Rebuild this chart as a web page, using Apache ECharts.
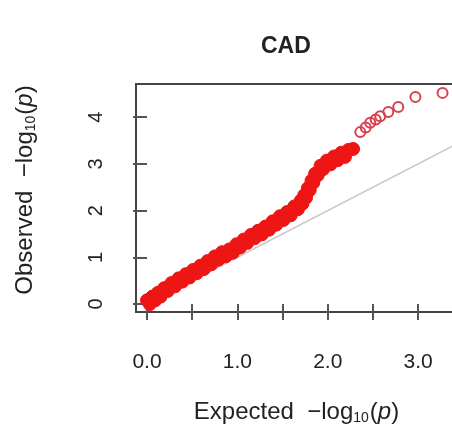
<!DOCTYPE html>
<html>
<head>
<meta charset="utf-8">
<script src="https://cdn.jsdelivr.net/npm/echarts@6/dist/echarts.min.js"></script>
<style>
html,body{margin:0;padding:0;background:#fff;}
#c{width:452px;height:429px;}
</style>
</head>
<body>
<div id="c"></div>
<script>
// ---- data ----
const chartTitle = 'CAD';
// dense part of the Q-Q band (expected, observed)
const denseX = [0.00,0.03,0.06,0.09,0.12,0.15,0.19,0.23,0.27,0.31,0.35,0.39,0.43,0.47,0.51,0.55,0.59,0.63,0.67,0.71,0.75,0.79,0.83,0.87,0.91,0.95,0.99,1.03,1.07,1.11,1.15,1.19,1.23,1.27,1.31,1.35,1.39,1.43,1.47,1.51,1.55,1.59,1.63,1.67,1.70,1.72,1.74,1.76,1.78,1.80,1.82,1.84,1.86,1.89,1.92,1.95,1.99,2.03,2.07,2.11,2.15,2.19,2.23,2.28];
const denseY = [0.08,0.00,0.16,0.08,0.24,0.16,0.34,0.28,0.45,0.38,0.55,0.48,0.64,0.57,0.73,0.66,0.82,0.75,0.92,0.85,1.02,0.95,1.11,1.02,1.17,1.10,1.28,1.21,1.38,1.31,1.48,1.41,1.57,1.49,1.66,1.59,1.77,1.70,1.88,1.80,1.97,1.90,2.09,2.03,2.21,2.15,2.33,2.28,2.48,2.44,2.64,2.60,2.79,2.76,2.96,2.89,3.07,2.99,3.16,3.08,3.24,3.15,3.30,3.32];
// sparse upper tail
const tailX = [2.36,2.42,2.47,2.53,2.58,2.67,2.78,2.97,3.27];
const tailY = [3.68,3.78,3.88,3.95,4.02,4.11,4.22,4.43,4.52];
// reference line y = x
const refLineX = [0, 3.6];
const refLineY = [0, 3.6];
// ticks
const xTickVals = [0,0.5,1.0,1.5,2.0,2.5,3.0];
const xLabelVals = [0,1,2,3];
const yTickVals = [0,1,2,3,4];

const zip = (a,b) => a.map((v,i)=>[v,b[i]]);
const red = '#ee1515';
const font = 'Liberation Sans, Arial, sans-serif';
const richName = {
  n:{fontFamily:font, fontSize:24, color:'#222'},
  s:{fontFamily:font, fontSize:14, color:'#222', padding:[11,1,0,0]},
  i:{fontFamily:font, fontSize:24, fontStyle:'italic', color:'#222'}
};

const chart = echarts.init(document.getElementById('c'), null, {renderer:'canvas'});
chart.setOption({
  backgroundColor:'#fff',
  animation:false,
  title:{
    text: chartTitle, left: 256, top: 30,
    textStyle:{fontFamily:font, fontWeight:'bold', fontSize:23, color:'#222'}
  },
  grid:{
    left:136, top:84, right:-5, bottom:117,
    show:true, borderColor:'#444', borderWidth:2, backgroundColor:'transparent',
    outerBoundsMode:'none', containLabel:false
  },
  xAxis:{
    type:'value', min:-0.122, max:3.43,
    axisLine:{show:false},
    splitLine:{show:false},
    axisTick:{show:true, length:16, inside:false, customValues:xTickVals, lineStyle:{color:'#555', width:2}},
    axisLabel:{show:true, margin:40, customValues:xLabelVals, fontFamily:font, fontSize:21, color:'#222',
      formatter:v=>Number(v).toFixed(1)},
    name:'{n|Expected  −log}{s|10}{n|(}{i|p}{n|)}',
    nameLocation:'middle', nameGap:88,
    nameTextStyle:{rich:richName}
  },
  yAxis:{
    type:'value', min:-0.17, max:4.71,
    axisLine:{show:false},
    splitLine:{show:false},
    axisTick:{show:true, length:14, customValues:yTickVals, lineStyle:{color:'#555', width:2}},
    axisLabel:{show:true, rotate:90, margin:30, customValues:yTickVals, fontFamily:font, fontSize:20, color:'#222'},
    name:'{n|Observed  −log}{s|10}{n|(}{i|p}{n|)}',
    nameLocation:'middle', nameGap:98, nameRotate:90,
    nameTextStyle:{rich:richName, padding:[0,0,0,16]}
  },
  series:[
    {
      type:'line', data: zip(refLineX, refLineY), symbol:'none', clip:true,
      lineStyle:{color:'#c9c9c9', width:1.6}, silent:true, z:1
    },
    {
      type:'scatter', data: zip(denseX, denseY), symbol:'circle', symbolSize:13,
      itemStyle:{color:red, borderColor:red, borderWidth:1, opacity:1}, z:2
    },
    {
      type:'scatter', data: zip(tailX, tailY), symbol:'circle', symbolSize:10,
      itemStyle:{color:'rgba(0,0,0,0)', borderColor:'#d8404e', borderWidth:2, opacity:1}, z:2
    }
  ]
});
</script>
</body>
</html>
